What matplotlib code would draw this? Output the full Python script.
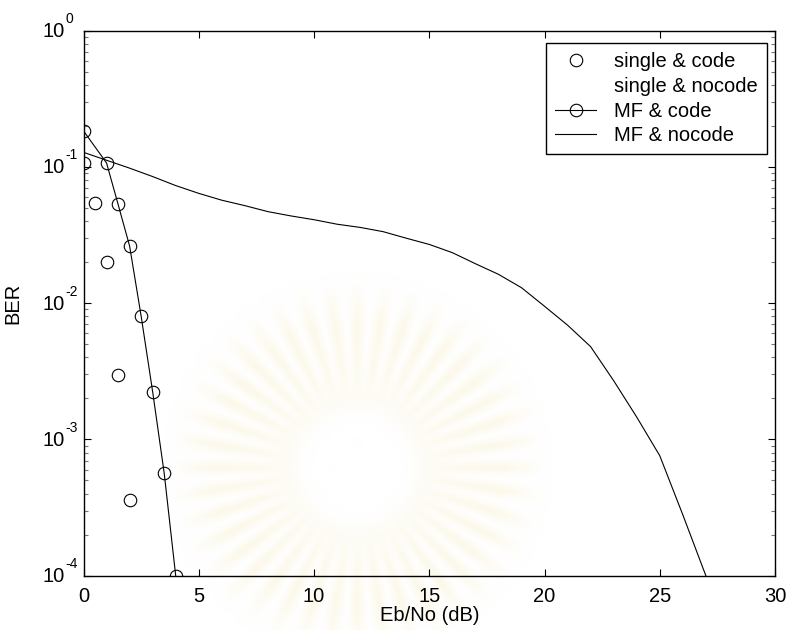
import numpy as np
import matplotlib as mpl
mpl.use('Agg')
import matplotlib.pyplot as plt
from matplotlib.ticker import NullFormatter
from matplotlib.transforms import offset_copy

# BER curves vs Eb/No
snr_single = [0, 0.5, 1, 1.5, 2]
ber_single_code = [0.107, 0.0547, 0.020, 0.00297, 0.000357]

snr_mf_code = [0, 1, 1.5, 2, 2.5, 3, 3.5, 4]
ber_mf_code = [0.184, 0.107, 0.0532, 0.0263, 0.00805, 0.00224, 0.000567, 0.0001]

snr_mf_nocode = list(range(0, 28))
ber_mf_nocode = [0.128, 0.112, 0.098, 0.085, 0.073, 0.064, 0.057, 0.052,
                 0.047, 0.0437, 0.041, 0.038, 0.036, 0.0335, 0.030, 0.027,
                 0.0235, 0.0195, 0.0163, 0.013, 0.0095, 0.0069, 0.0048,
                 0.0027, 0.00146, 0.00076, 0.00028, 0.0001]

xticks = [0, 5, 10, 15, 20, 25, 30]
ydecades = [-4, -3, -2, -1, 0]

plt.rcParams['font.family'] = ['Liberation Sans', 'DejaVu Sans']

W, H = 791, 630
fig = plt.figure(figsize=(W / 100, H / 100), dpi=100)

# soft emblem in the background: rays around a blank disc
cx, cy = 357, 467
yy, xx = np.mgrid[0:H, 0:W]
r = np.hypot(xx - cx, yy - cy)
th = np.arctan2(yy - cy, xx - cx)
rays = np.clip((np.cos(40 * th) + 0.3) * 1.5, 0, 1)
ring = np.clip((r - 50) / 20, 0, 1) * np.clip((190 - r) / 45, 0, 1)
field = rays * ring
# box blur to soften the edges
k = 5
pad = np.pad(field, k, mode='edge')
cs = pad.cumsum(0).cumsum(1)
cs = np.pad(cs, ((1, 0), (1, 0)))
n = 2 * k + 1
field = (cs[n:n + H, n:n + W] - cs[:H, n:n + W] - cs[n:n + H, :W] + cs[:H, :W]) / n ** 2
tint = np.array([252, 248, 233]) / 255.0
img = 1 - field[..., None] * (1 - tint)
bg = fig.add_axes([0, 0, 1, 1], zorder=-1)
bg.imshow(img, extent=(0, W, H, 0), interpolation='bilinear')
bg.axis('off')

ax = fig.add_axes([83.5 / W, 1 - 575.7 / H, (775 - 83.5) / W, (575.7 - 30.7) / H])
ax.patch.set_alpha(0)

mk = dict(marker='o', markersize=9, markerfacecolor='none',
          markeredgecolor='black', markeredgewidth=0.8)
ax.semilogy(snr_single, ber_single_code, linestyle='none', label='single & code', **mk)
ax.semilogy([], [], linestyle='none', label='single & nocode')
ax.semilogy(snr_mf_code, ber_mf_code, color='black', lw=0.8, label='MF & code', **mk)
ax.semilogy(snr_mf_nocode, ber_mf_nocode, color='black', lw=0.8, label='MF & nocode')

ax.set_xlim(0, 30)
ax.set_ylim(1e-4, 1)
ax.set_xticks(xticks)
ax.tick_params(which='both', direction='in', top=True, right=True,
               labelsize=14.5, width=0.8)
ax.tick_params(which='major', length=5, pad=8)
ax.tick_params(which='minor', length=3, color='#777777')
ax.yaxis.set_major_formatter(NullFormatter())
ax.yaxis.set_minor_formatter(NullFormatter())
for s in ax.spines.values():
    s.set_linewidth(1.0)

# y labels as "10" with a small raised exponent, left aligned
ytr = ax.get_yaxis_transform()
for d in ydecades:
    ax.text(0, 10.0 ** d, '10', fontsize=14.5, ha='left', va='baseline',
            transform=offset_copy(ytr, fig, x=-41, y=-6.5, units='dots'),
            clip_on=False)
    ax.text(0, 10.0 ** d, str(d), fontsize=10, ha='left', va='baseline',
            transform=offset_copy(ytr, fig, x=-18.5, y=7.5, units='dots'),
            clip_on=False)

ax.set_xlabel('Eb/No (dB)', fontsize=14.5, labelpad=0)
ax.set_ylabel('BER', fontsize=14.5)
ax.yaxis.set_label_coords(-0.089, 0.5)

leg = ax.legend(loc='upper right', bbox_to_anchor=(766.7 / W, 1 - 43.3 / H),
                bbox_transform=fig.transFigure, borderaxespad=0,
                fontsize=14.5, frameon=True, fancybox=False,
                edgecolor='black', framealpha=1, labelspacing=0.28,
                handlelength=2.0, handletextpad=0.9, borderpad=0.45)
leg.get_frame().set_linewidth(1.0)

fig.savefig('out.png', dpi=100)
